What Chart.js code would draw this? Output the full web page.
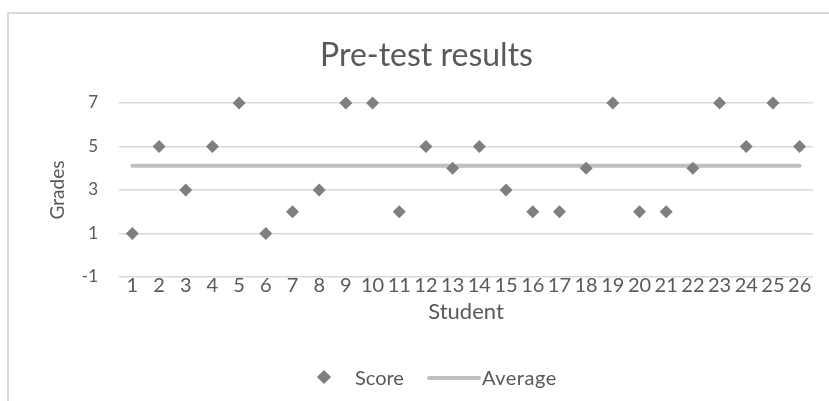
<!DOCTYPE html>
<html>
<head>
<meta charset="utf-8">
<script src="https://cdn.jsdelivr.net/npm/chart.js@4"></script>
<style>
  body { margin: 0; background: #fff; font-family: Lato, sans-serif; }
  #wrap { position: relative; width: 829px; height: 401px; overflow: hidden; }
  #frame { position: absolute; left: 7px; top: 12px; width: 840px; height: 400px;
           border-left: 2px solid #d9d9d9; border-top: 2px solid #d9d9d9; }
  canvas { position: absolute; left: 0; top: 0; }
  #legend { position: absolute; top: 366px; left: 0; width: 829px; height: 22px;
            color: #595959; font-size: 20px; }
  .item { position: absolute; top: 0; line-height: 22px; }
  .diamond { position: absolute; width: 10px; height: 10px; background: #7f7f7f;
             transform: rotate(45deg); top: 6px; }
  .line { position: absolute; height: 4px; border-radius: 2px; background: #bfbfbf; top: 10px; }
</style>
</head>
<body>
<div id="wrap">
  <div id="frame"></div>
  <canvas id="chart" width="829" height="401"></canvas>
  <div id="legend">
    <div class="diamond" style="left:319px"></div>
    <div class="item" style="left:355px">Score</div>
    <div class="line" style="left:427px;width:54px"></div>
    <div class="item" style="left:482px;letter-spacing:0.5px">Average</div>
  </div>
</div>
<script>
const students = ["1","2","3","4","5","6","7","8","9","10","11","12","13","14","15","16","17","18","19","20","21","22","23","24","25","26"];
const scores = [1, 5, 3, 5, 7, 1, 2, 3, 7, 7, 2, 5, 4, 5, 3, 2, 2, 4, 7, 2, 2, 4, 7, 5, 7, 5];
const averageGrade = 4.12;
const yTickLabels = [-1, 1, 3, 5, 7];
const yGridLines = [-1, 0, 1, 3, 5, 7];

const textColor = "#595959";

new Chart(document.getElementById("chart"), {
  type: "line",
  data: {
    labels: students,
    datasets: [
      {
        label: "Score",
        data: scores,
        showLine: false,
        clip: false,
        pointStyle: "rectRot",
        pointRadius: 6.5,
        pointHoverRadius: 6.5,
        pointBackgroundColor: "#7f7f7f",
        pointBorderWidth: 0,
        order: 0
      },
      {
        label: "Average",
        data: students.map(() => averageGrade),
        borderColor: "#bfbfbf",
        borderWidth: 4,
        borderCapStyle: "round",
        pointRadius: 0,
        clip: false,
        order: 1
      }
    ]
  },
  options: {
    responsive: false,
    animation: false,
    layout: { padding: { left: 40, right: 16, top: 0, bottom: 0 } },
    plugins: {
      legend: { display: false },
      tooltip: { enabled: false },
      title: {
        display: true,
        text: "Pre-test results",
        color: textColor,
        font: { family: "Lato", size: 32, weight: "normal" },
        padding: { top: 36, bottom: 28.6 }
      }
    },
    scales: {
      x: {
        type: "category",
        offset: true,
        grid: { display: false, drawTicks: false },
        border: { display: false },
        ticks: {
          color: textColor,
          font: { family: "Lato", size: 20 },
          autoSkip: false,
          maxRotation: 0,
          padding: -3
        },
        title: {
          display: true,
          text: "Student",
          color: textColor,
          font: { family: "Lato", size: 22 },
          padding: { top: 0, bottom: 76 }
        },
        afterFit: scale => { scale.height = 124; }
      },
      y: {
        min: -1,
        max: 7,
        border: { display: false },
        grid: {
          drawTicks: false,
          color: ctx => yGridLines.includes(ctx.tick.value) ? "#d9d9d9" : "rgba(0,0,0,0)",
          lineWidth: 1.5
        },
        ticks: {
          stepSize: 1,
          color: textColor,
          font: { family: "Lato", size: 17 },
          padding: 21,
          callback: v => yTickLabels.includes(v) ? String(v) : ""
        },
        title: {
          display: true,
          text: "Grades",
          color: textColor,
          font: { family: "Lato", size: 19 },
          padding: { top: 6, bottom: 0 }
        },
        afterFit: scale => { scale.width = 79; }
      }
    }
  }
});
</script>
</body>
</html>
